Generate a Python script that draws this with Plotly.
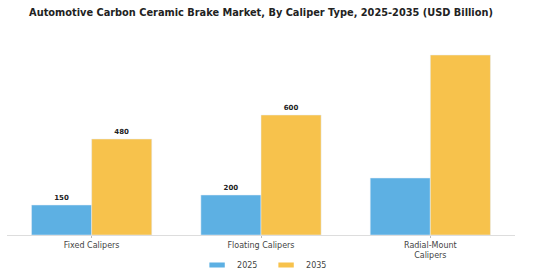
import plotly.graph_objects as go

categories = ["Fixed Calipers", "Floating Calipers", "Radial-Mount<br>Calipers"]
values_2025 = [150, 200, 285]
values_2035 = [480, 600, 900]
labels_2025 = ["<b>150</b>", "<b>200</b>", ""]
labels_2035 = ["<b>480</b>", "<b>600</b>", ""]
color_2025 = "#5DB0E3"
color_2035 = "#F7C24C"

fig = go.Figure()
fig.add_bar(x=categories, y=values_2025, name="2025", marker_color=color_2025,
            text=labels_2025, textposition="outside", showlegend=False,
            textfont=dict(family="DejaVu Sans", size=7, color="#222"), cliponaxis=False)
fig.add_bar(x=categories, y=values_2035, name="2035", marker_color=color_2035,
            text=labels_2035, textposition="outside", showlegend=False,
            textfont=dict(family="DejaVu Sans", size=7, color="#222"), cliponaxis=False)
for nm, col in [("2025", color_2025), ("2035", color_2035)]:
    fig.add_scatter(x=[None], y=[None], name=nm, mode="markers",
                    marker=dict(symbol="line-ew", size=11, color=col,
                                line=dict(width=5, color=col)))

fig.update_layout(
    width=560, height=280,
    margin=dict(l=7, r=45, t=40, b=45, autoexpand=False),
    paper_bgcolor="white", plot_bgcolor="white",
    barmode="group", bargap=0.29, bargroupgap=0,
    title=dict(text="<b>Automotive Carbon Ceramic Brake Market, By Caliper Type, 2025-2035 (USD Billion)</b>",
               x=0.5, xref="paper", y=0.955, yanchor="middle",
               font=dict(family="DejaVu Sans", size=9.8, color="#222")),
    font=dict(family="DejaVu Sans", size=8, color="#444"),
    legend=dict(orientation="h", x=0.51, xanchor="center", y=-0.08, yanchor="top",
                font=dict(size=8, color="#444"), itemwidth=30,
                entrywidth=24, entrywidthmode="pixels"),
    showlegend=True,
)
fig.update_xaxes(showline=True, linecolor="#ddd", linewidth=1, ticks="outside", ticklen=2,
                 tickcolor="#bbb", tickfont=dict(size=8, color="#444"), automargin=False)
fig.update_yaxes(range=[0, 975], visible=False, showgrid=False, automargin=False)
fig.write_html("out.html")
